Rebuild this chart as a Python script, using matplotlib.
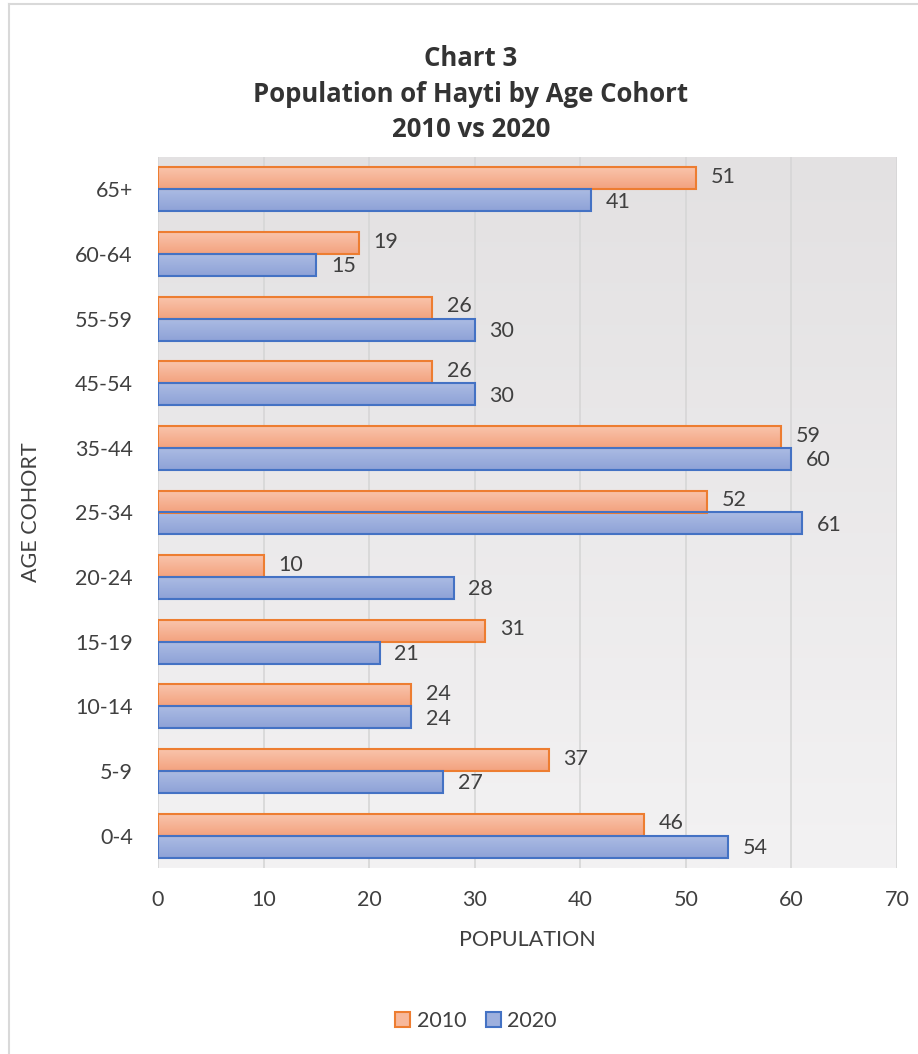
import matplotlib.pyplot as plt
import numpy as np
from matplotlib.lines import Line2D
from matplotlib.patches import Rectangle
from matplotlib.colors import LinearSegmentedColormap

plt.rcParams["font.family"] = ["Lato", "DejaVu Sans"]

cohorts = ["0-4", "5-9", "10-14", "15-19", "20-24", "25-34",
           "35-44", "45-54", "55-59", "60-64", "65+"]
pop_2010 = [46, 37, 24, 31, 10, 52, 59, 26, 26, 19, 51]
pop_2020 = [54, 27, 24, 21, 28, 61, 60, 30, 30, 15, 41]
x_ticks = [0, 10, 20, 30, 40, 50, 60, 70]

TEXT = "#404040"
ORANGE_EDGE = "#ED7D31"
BLUE_EDGE = "#4472C4"
orange_cmap = LinearSegmentedColormap.from_list("o", ["#f3a27f", "#f9c4ab"])
blue_cmap = LinearSegmentedColormap.from_list("b", ["#8ea2d7", "#abbbe3"])

fig = plt.figure(figsize=(9.18, 10.54), dpi=100)
ax = fig.add_axes([158 / 918, 1 - 868 / 1054, (897 - 158) / 918, (868 - 157) / 1054])

# outer chart border (only top/left visible in the crop)
fig.add_artist(Line2D([9 / 918, 9 / 918], [0, 1 - 4 / 1054], transform=fig.transFigure,
                      color="#d9d9d9", lw=1.5))
fig.add_artist(Line2D([9 / 918, 1], [1 - 4 / 1054, 1 - 4 / 1054], transform=fig.transFigure,
                      color="#d9d9d9", lw=1.5))

y = np.arange(len(cohorts))
h = 0.34

# plot area gradient background
bg = LinearSegmentedColormap.from_list("bg", ["#f3f2f3", "#e3e1e2"])
ax.imshow(np.linspace(0, 1, 256).reshape(-1, 1), cmap=bg, aspect="auto",
          extent=[0, 70, -0.5, len(cohorts) - 0.5], origin="lower", zorder=0)

for xt in x_ticks:
    ax.axvline(xt, color="#d6d6d6", lw=1.2, zorder=1)


def grad_bars(vals, offset, cmap, edge):
    bars = ax.barh(y + offset, vals, height=h, facecolor="none",
                   edgecolor=edge, linewidth=1.5, zorder=3)
    for b in bars:
        bx, by = b.get_x(), b.get_y()
        bw, bh = b.get_width(), b.get_height()
        im = ax.imshow(np.linspace(0, 1, 64).reshape(-1, 1), cmap=cmap, aspect="auto",
                       extent=[bx, bx + bw, by, by + bh], origin="lower", zorder=2)
        im.set_clip_path(Rectangle((bx, by), bw, bh, transform=ax.transData))
    return bars


grad_bars(pop_2010, h / 2, orange_cmap, ORANGE_EDGE)
grad_bars(pop_2020, -h / 2, blue_cmap, BLUE_EDGE)
ax.set_xlim(0, 70)
ax.set_ylim(-0.5, len(cohorts) - 0.5)

for yi, v in zip(y, pop_2010):
    ax.text(v + 1.4, yi + h / 2 + 0.02, str(v), va="center", ha="left",
            fontsize=15.5, color=TEXT, zorder=4)
for yi, v in zip(y, pop_2020):
    ax.text(v + 1.4, yi - h / 2 - 0.02, str(v), va="center", ha="left",
            fontsize=15.5, color=TEXT, zorder=4)

ax.set_yticks(y)
ax.set_yticklabels(cohorts)
ax.set_xticks(x_ticks)
ax.tick_params(axis="both", length=0, labelsize=15.5, colors=TEXT)
ax.tick_params(axis="x", pad=16)
ax.tick_params(axis="y", pad=18)
for s in ax.spines.values():
    s.set_visible(False)

ax.set_xlabel("POPULATION", fontsize=15.5, color=TEXT, labelpad=14)
ax.set_ylabel("AGE COHORT", fontsize=15.5, color=TEXT)
ax.yaxis.set_label_coords(-117 / 739, 0.5)

fig.text(471 / 918, 1 - 94 / 1054, "Chart 3\nPopulation of Hayti by Age Cohort\n2010 vs 2020",
         ha="center", va="center", fontsize=18.5, fontweight="bold", color="#333333",
         linespacing=1.4, family=["Open Sans", "DejaVu Sans"])

# legend
handles = [Rectangle((0, 0), 1, 1, facecolor="#f7b89b", edgecolor=ORANGE_EDGE, lw=1.5),
           Rectangle((0, 0), 1, 1, facecolor="#9eb0de", edgecolor=BLUE_EDGE, lw=1.5)]
fig.legend(handles, ["2010", "2020"], loc="center", bbox_to_anchor=(476 / 918, 1 - 1021 / 1054),
           ncol=2, frameon=False, fontsize=15.5, handlelength=0.7, handleheight=0.7,
           handletextpad=0.3, columnspacing=0.9, labelcolor=TEXT)

fig.savefig("out.png", dpi=100)
